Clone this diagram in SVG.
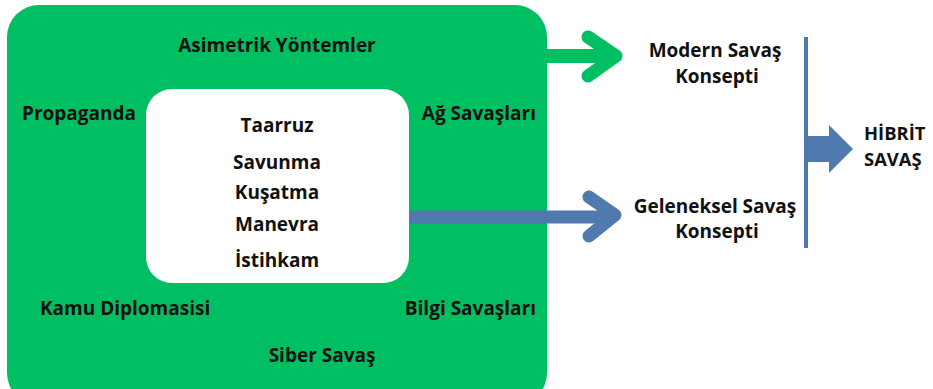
<svg xmlns="http://www.w3.org/2000/svg" width="933" height="389" viewBox="0 0 933 389">
<style>
text{font-family:"Open Sans","Liberation Sans",sans-serif;font-weight:700;font-size:19px;fill:#111}
.c{text-anchor:middle}
.h{font-size:18.4px}
</style>
<rect width="933" height="389" fill="#fff"/>
<g id="outer">
<rect x="7" y="5" width="540" height="400" rx="32" fill="#00bf63"/>
<text class="c" x="277" y="52">Asimetrik Yöntemler</text>
<text x="22" y="120">Propaganda</text>
<text x="536" y="120" text-anchor="end">Ağ Savaşları</text>
<text x="40" y="315">Kamu Diplomasisi</text>
<text x="536" y="315" text-anchor="end">Bilgi Savaşları</text>
<text class="c" x="322" y="362">Siber Savaş</text>
</g>
<g id="inner">
<rect x="146" y="89" width="263" height="194" rx="26" fill="#fff"/>
<text class="c" x="277" y="132">Taarruz</text>
<text class="c" x="277" y="169">Savunma</text>
<text class="c" x="277" y="199">Kuşatma</text>
<text class="c" x="277" y="231">Manevra</text>
<text class="c" x="277" y="267">İstihkam</text>
</g>
<g id="modern">
<text class="c" x="715" y="57">Modern Savaş</text>
<text class="c" x="717" y="83">Konsepti</text>
</g>
<g id="geleneksel">
<text class="c" x="715" y="213">Geleneksel Savaş</text>
<text class="c" x="717" y="238">Konsepti</text>
</g>
<g id="hibrit">
<text class="h" x="864" y="140">HİBRİT</text>
<text class="h" x="864" y="166">SAVAŞ</text>
</g>
<g id="connectors" fill="none" stroke-linecap="round" stroke-linejoin="round">
<path d="M547 56 H614" stroke="#00bf63" stroke-width="14" stroke-linecap="butt"/>
<path d="M588 37 L616 56 L588 76" stroke="#00bf63" stroke-width="13"/>
<path d="M409 217 H614" stroke="#5079ae" stroke-width="13" stroke-linecap="butt"/>
<path d="M589 197 L615 215 L589 236" stroke="#5079ae" stroke-width="13"/>
<line x1="806" y1="37" x2="806" y2="248" stroke="#5079ae" stroke-width="4" stroke-linecap="butt"/>
<path d="M806 136 H829 V125 L853 149 L829 173 V162 H806 Z" fill="#5079ae" stroke="none"/>
</g>
</svg>
